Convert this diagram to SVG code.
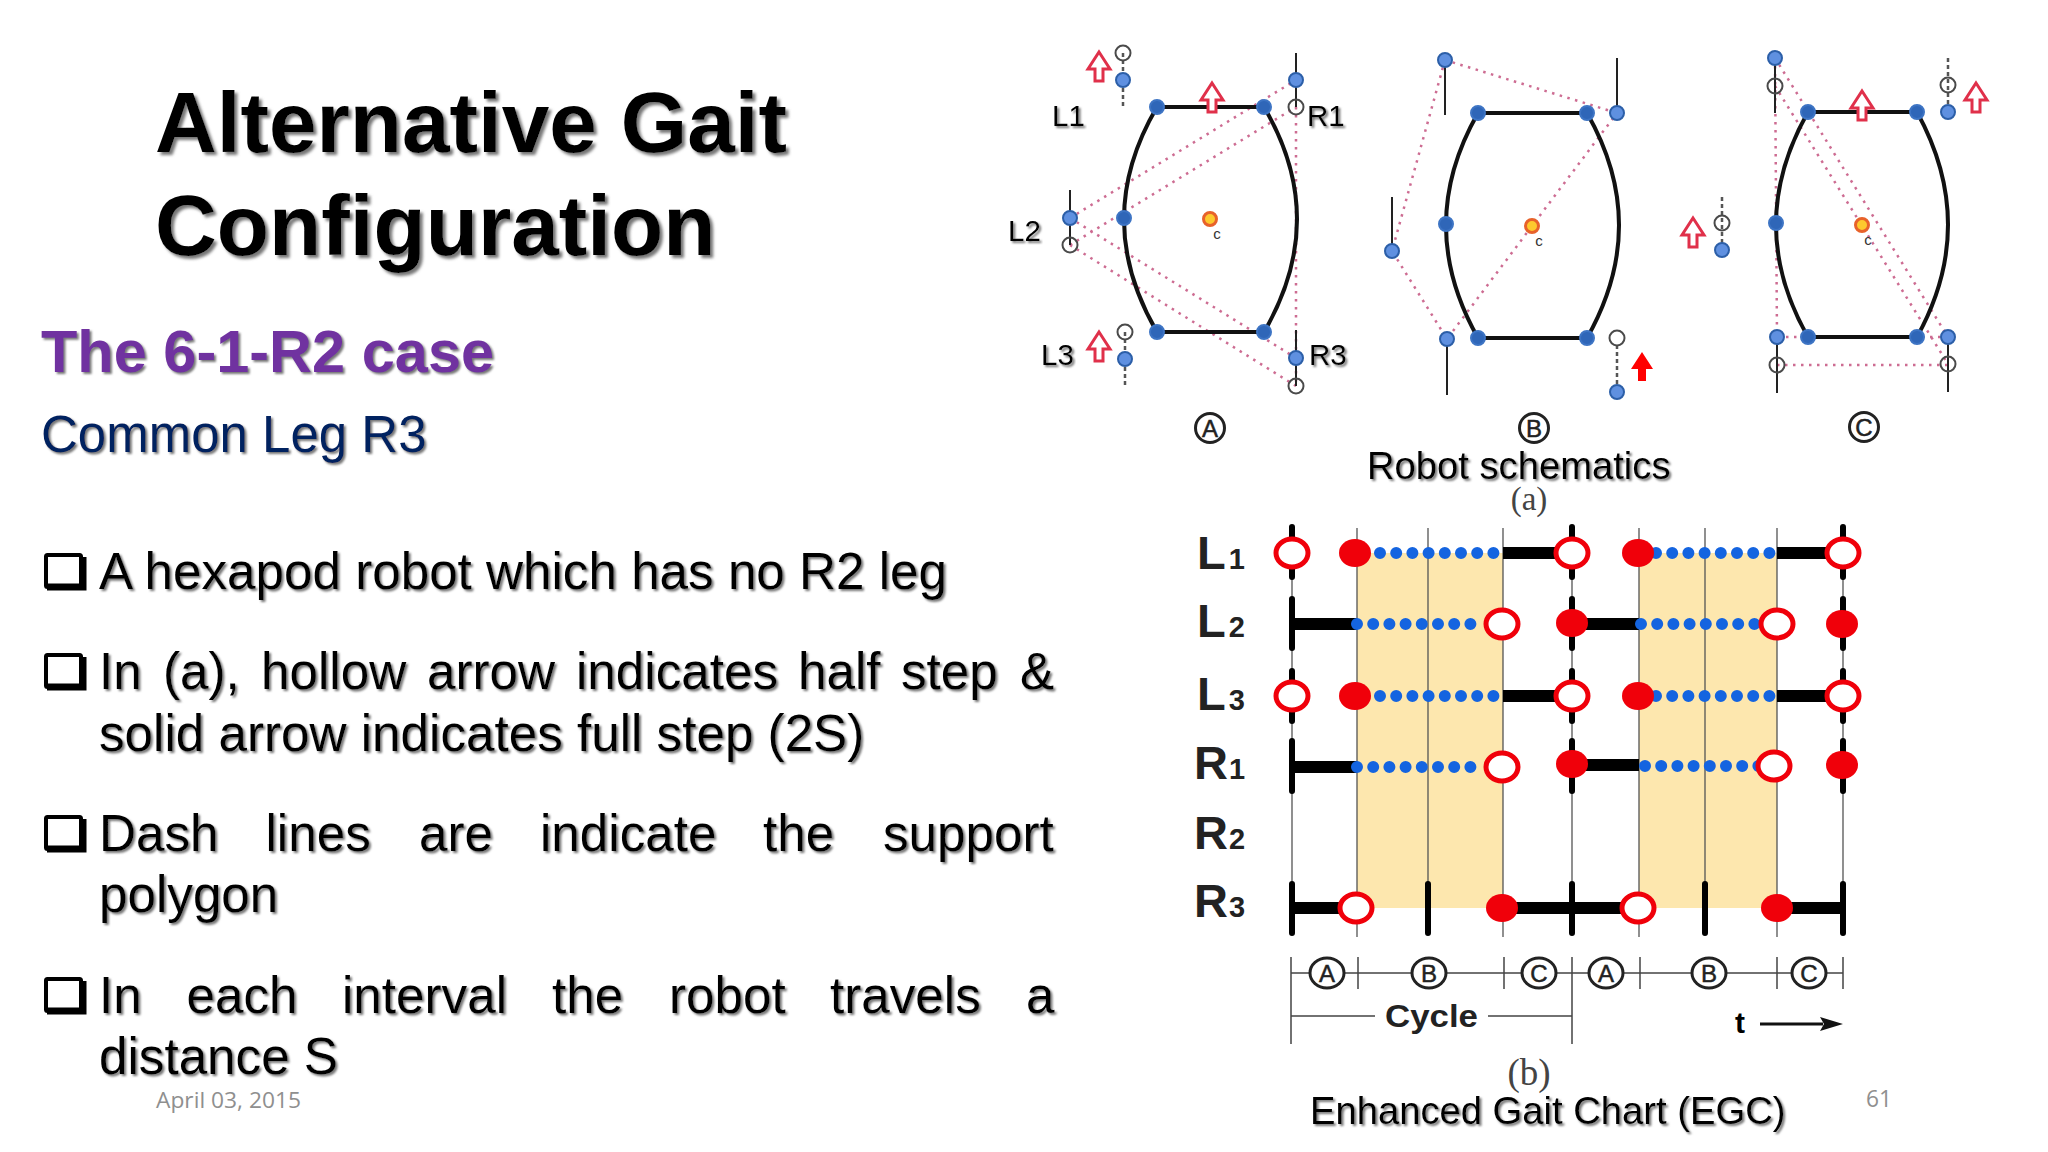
<svg xmlns="http://www.w3.org/2000/svg" xmlns:xlink="http://www.w3.org/1999/xlink" width="2048" height="1152" viewBox="0 0 2048 1152">
<style>
text{font-family:"Liberation Sans",Arial,sans-serif;fill:#000}
.bt{font-size:51.2px;filter:url(#sh)}
.ttl{font-size:85.5px;font-weight:bold;filter:url(#shb)}
.cap{font-size:38.2px;filter:url(#sh)}
.leg{font-size:29.5px;filter:url(#sh)}
.foot{font-family:"Open Sans",sans-serif;fill:#8f8f8f}
.ser{font-family:"Liberation Serif",serif;fill:#444}
.c{font-size:15px;fill:#333;text-anchor:middle}
.cl{font-size:24px;text-anchor:middle;fill:#222;stroke:#222;stroke-width:.5}
.lab{font-size:47px;font-weight:bold;fill:#222}
.lab tspan{font-size:29px}
.body{fill:none;stroke:#111;stroke-width:4;stroke-linejoin:round}
.j{fill:#2f66b8;stroke:#3d74c4;stroke-width:2}
.fb{fill:#5f90e0;stroke:#2c5fa8;stroke-width:2}
.fo{fill:none;stroke:#4a4a4a;stroke-width:2}
.cg{fill:#fdc92e;stroke:#e8622a;stroke-width:3}
.ls{stroke:#222;stroke-width:2;fill:none}
.ld{stroke:#555;stroke-width:2.5;stroke-dasharray:4 3;fill:none}
.pd{stroke:#c4527f;stroke-width:2.5;stroke-dasharray:2.5 5.5;fill:none;opacity:.85}
.ah{fill:#fff;stroke:#e0304a;stroke-width:3}
.ccl{fill:#fff;stroke:#222;stroke-width:3}
.vt{stroke:#555;stroke-width:1.3}
.tick{stroke:#000;stroke-width:6;stroke-linecap:round}
.bar{stroke:#000;stroke-width:12}
.dots{stroke:#1464e0;stroke-width:12;stroke-linecap:round;stroke-dasharray:0 16.2;fill:none}
.op{fill:#fff;stroke:#f0000a;stroke-width:5}
.so{fill:#f0000a}
.tl{stroke:#444;stroke-width:1.5;fill:none}
</style>
<defs>
<filter id="sh" x="-5%" y="-20%" width="110%" height="140%"><feDropShadow dx="2" dy="2" stdDeviation="1.2" flood-color="#777"/></filter>
<filter id="shb" x="-5%" y="-20%" width="110%" height="140%"><feDropShadow dx="3" dy="3" stdDeviation="1.5" flood-color="#777"/></filter>
<path id="arr" d="M0-15 11 2H4V14H-4V2H-11Z"/>
<g id="bul"><rect x="46" y="555" width="35" height="32" rx="1.5" fill="#fff" stroke="#000" stroke-width="4"/><path d="M47 587H83V557" fill="none" stroke="#000" stroke-width="7"/></g>
</defs>
<rect width="2048" height="1152" fill="#fff"/>

<g id="title">
<text class="ttl" x="155" y="152">Alternative Gait</text>
<text class="ttl" x="155" y="255">Configuration</text>
</g>
<g id="subtitle">
<text x="41" y="372" font-size="59.5" font-weight="bold" style="fill:#7030a0;filter:url(#sh)">The 6-1-R2 case</text>
<text x="41" y="452" font-size="51" style="fill:#002060;filter:url(#sh)">Common Leg R3</text>
</g>
<g id="bullets">
<use href="#bul" xlink:href="#bul"/>
<use href="#bul" xlink:href="#bul" y="100"/>
<use href="#bul" xlink:href="#bul" y="262"/>
<use href="#bul" xlink:href="#bul" y="424"/>
<text class="bt" x="99" y="589">A hexapod robot which has no R2 leg</text>
<text class="bt" y="689" x="99">In<tspan x="163">(a),</tspan><tspan x="261">hollow</tspan><tspan x="427">arrow</tspan><tspan x="576">indicates</tspan><tspan x="798">half</tspan><tspan x="901">step</tspan><tspan x="1020">&amp;</tspan></text>
<text class="bt" x="99" y="751">solid arrow indicates full step (2S)</text>
<text class="bt" y="851" x="99">Dash<tspan x="265.5">lines</tspan><tspan x="419">are</tspan><tspan x="540">indicate</tspan><tspan x="763">the</tspan><tspan x="883">support</tspan></text>
<text class="bt" x="99" y="912">polygon</text>
<text class="bt" y="1013" x="99">In<tspan x="186.5">each</tspan><tspan x="342">interval</tspan><tspan x="552">the</tspan><tspan x="669">robot</tspan><tspan x="830">travels</tspan><tspan x="1026">a</tspan></text>
<text class="bt" x="99" y="1074">distance S</text>
</g>
<g id="footer">
<text class="foot" x="156" y="1108" font-size="22" textLength="145" lengthAdjust="spacingAndGlyphs">April 03, 2015</text>
<text class="foot" x="1870" y="1107" font-size="23" textLength="26" lengthAdjust="spacingAndGlyphs" transform="translate(-4 0)">61</text>
</g>

<g id="connectors">
<path class="pd" d="M1070 218 1296 80M1070 245 1296 107M1296 107 1296 386M1070 218 1296 358M1070 245 1296 386"/>
<path class="pd" d="M1445 60 1617 113M1445 60 1392 251 1447 339 1617 113"/>
<path class="pd" d="M1775 58 1948 337M1775 86 1948 364M1775 58 1777 337 1948 337M1777 365H1948"/>
</g>

<g id="robot-a">
<path class="body" d="M1157 107H1264Q1330 219 1264 332H1157Q1091 219 1157 107Z"/>
<g class="j"><circle cx="1157" cy="107" r="7"/><circle cx="1264" cy="107" r="7"/><circle cx="1157" cy="332" r="7"/><circle cx="1264" cy="332" r="7"/><circle cx="1124" cy="218" r="7"/></g>
<circle class="cg" cx="1210" cy="219" r="6.5"/>
<text class="c" x="1217" y="239">c</text>
<path class="ld" d="M1123 53V108M1125 332V388"/>
<path class="ls" d="M1296 53V107M1070 190V245M1296 330V386"/>
<g class="fb"><circle cx="1123" cy="80" r="7"/><circle cx="1296" cy="80" r="7"/><circle cx="1070" cy="218" r="7"/><circle cx="1125" cy="359" r="7"/><circle cx="1296" cy="358" r="7"/></g>
<g class="fo"><circle cx="1123" cy="53" r="7.5"/><circle cx="1296" cy="107" r="7.5"/><circle cx="1070" cy="245" r="7.5"/><circle cx="1125" cy="332" r="7.5"/><circle cx="1296" cy="386" r="7.5"/></g>
<g class="ah"><use href="#arr" xlink:href="#arr" x="1099" y="67"/><use href="#arr" xlink:href="#arr" x="1212" y="98"/><use href="#arr" xlink:href="#arr" x="1099" y="347"/></g>
<text class="leg" x="1052" y="126">L1</text>
<text class="leg" x="1307" y="126">R1</text>
<text class="leg" x="1008" y="241">L2</text>
<text class="leg" x="1041" y="365">L3</text>
<text class="leg" x="1309" y="365">R3</text>
<circle class="ccl" cx="1210" cy="428" r="14.5"/><text class="cl" x="1210" y="437">A</text>
</g>

<g id="robot-b">
<path class="body" d="M1478 113H1587Q1651 225 1587 338H1478Q1414 225 1478 113Z"/>
<g class="j"><circle cx="1478" cy="113" r="7"/><circle cx="1587" cy="113" r="7"/><circle cx="1478" cy="338" r="7"/><circle cx="1587" cy="338" r="7"/><circle cx="1446" cy="224" r="7"/></g>
<circle class="cg" cx="1532" cy="226" r="6.5"/>
<text class="c" x="1539" y="246">c</text>
<path class="ld" d="M1617 338V392"/>
<path class="ls" d="M1445 60V115M1617 58V113M1392 197V251M1447 339V395"/>
<g class="fb"><circle cx="1445" cy="60" r="7"/><circle cx="1617" cy="113" r="7"/><circle cx="1392" cy="251" r="7"/><circle cx="1447" cy="339" r="7"/><circle cx="1617" cy="392" r="7"/></g>
<circle class="fo" cx="1617" cy="338" r="7.5" style="fill:#fff"/>
<use href="#arr" xlink:href="#arr" x="1642" y="367" fill="#f00"/>
<circle class="ccl" cx="1534" cy="428" r="14.5"/><text class="cl" x="1534" y="437">B</text>
</g>

<g id="robot-c">
<path class="body" d="M1808 112H1917Q1979 225 1917 337H1808Q1744 225 1808 112Z"/>
<g class="j"><circle cx="1808" cy="112" r="7"/><circle cx="1917" cy="112" r="7"/><circle cx="1808" cy="337" r="7"/><circle cx="1917" cy="337" r="7"/><circle cx="1776" cy="223" r="7"/></g>
<circle class="cg" cx="1862" cy="225" r="6.5"/>
<text class="c" x="1868" y="245">c</text>
<path class="ld" d="M1948 58V112M1722 197V250"/>
<path class="ls" d="M1775 58V113M1777 337V393M1948 337V392"/>
<g class="fb"><circle cx="1775" cy="58" r="7"/><circle cx="1948" cy="112" r="7"/><circle cx="1722" cy="250" r="7"/><circle cx="1777" cy="337" r="7"/><circle cx="1948" cy="337" r="7"/></g>
<g class="fo"><circle cx="1775" cy="86" r="7.5"/><circle cx="1948" cy="85" r="7.5"/><circle cx="1722" cy="223" r="7.5"/><circle cx="1777" cy="365" r="7.5"/><circle cx="1948" cy="364" r="7.5"/></g>
<g class="ah"><use href="#arr" xlink:href="#arr" x="1862" y="106"/><use href="#arr" xlink:href="#arr" x="1976" y="98"/><use href="#arr" xlink:href="#arr" x="1693" y="233"/></g>
<circle class="ccl" cx="1864" cy="427" r="14.5"/><text class="cl" x="1864" y="436">C</text>
</g>

<g id="caption-a">
<text class="cap" x="1367" y="479">Robot schematics</text>
<text class="ser" x="1529" y="510" font-size="33" text-anchor="middle">(a)</text>
</g>

<g id="gait-chart">
<rect x="1357" y="553" width="146" height="355" fill="#fde7ae"/>
<rect x="1639" y="553" width="138" height="355" fill="#fde7ae"/>
<g class="vt"><path d="M1292 528V935M1357 528V937M1428 528V935M1503 528V937M1572 528V935M1639 528V937M1705 528V935M1777 528V937M1843 528V935"/></g>
<text class="lab" x="1197" y="569">L<tspan dx="3">1</tspan></text>
<text class="lab" x="1197" y="637">L<tspan dx="3">2</tspan></text>
<text class="lab" x="1197" y="710">L<tspan dx="3">3</tspan></text>
<text class="lab" x="1194" y="779">R<tspan dx="1">1</tspan></text>
<text class="lab" x="1194" y="849">R<tspan dx="1">2</tspan></text>
<text class="lab" x="1194" y="917">R<tspan dx="1">3</tspan></text>
<g class="tick"><path d="M1292 527V577M1572 527V577M1843 527V577M1292 599V648M1572 599V648M1843 599V648M1292 671V721M1572 671V721M1843 671V721M1292 741V791M1572 741V791M1843 741V791M1292 884V933M1428 884V933M1572 884V933M1705 884V933M1843 884V933"/></g>
<g class="bar"><path d="M1503 553H1572M1777 553H1843M1292 624H1357M1572 624H1639M1503 696H1572M1777 696H1843M1292 767H1357M1572 765H1639M1292 908H1356M1502 908H1638M1777 908H1843"/></g>
<g class="dots"><path d="M1380 553H1496M1656 553H1772M1357 624H1486M1641 624H1755M1380 696H1496M1656 696H1772M1357 767H1486M1645 766H1760"/></g>
<g class="op"><ellipse cx="1292" cy="553" rx="16" ry="14"/><ellipse cx="1572" cy="553" rx="16" ry="14"/><ellipse cx="1843" cy="553" rx="16" ry="14"/><ellipse cx="1502" cy="624" rx="16" ry="14"/><ellipse cx="1777" cy="624" rx="16" ry="14"/><ellipse cx="1292" cy="696" rx="16" ry="14"/><ellipse cx="1572" cy="696" rx="16" ry="14"/><ellipse cx="1843" cy="696" rx="16" ry="14"/><ellipse cx="1502" cy="767" rx="16" ry="14"/><ellipse cx="1774" cy="766" rx="16" ry="14"/><ellipse cx="1356" cy="908" rx="16" ry="14"/><ellipse cx="1638" cy="908" rx="16" ry="14"/></g>
<g class="so"><ellipse cx="1355" cy="553" rx="16" ry="14"/><ellipse cx="1638" cy="553" rx="16" ry="14"/><ellipse cx="1572" cy="623" rx="16" ry="14"/><ellipse cx="1842" cy="624" rx="16" ry="14"/><ellipse cx="1355" cy="696" rx="16" ry="14"/><ellipse cx="1638" cy="696" rx="16" ry="14"/><ellipse cx="1572" cy="764" rx="16" ry="14"/><ellipse cx="1842" cy="765" rx="16" ry="14"/><ellipse cx="1502" cy="908" rx="16" ry="14"/><ellipse cx="1777" cy="908" rx="16" ry="14"/></g>
</g>

<g id="timeline">
<path class="tl" d="M1291 973H1843M1291 957V1044M1358 957V989M1504 957V989M1572 957V1044M1640 957V989M1777 957V989M1843 957V989M1291 1016H1375M1488 1016H1572"/>
<g class="ccl"><ellipse cx="1327" cy="973" rx="17" ry="15"/><ellipse cx="1429" cy="973" rx="17" ry="15"/><ellipse cx="1539" cy="973" rx="17" ry="15"/><ellipse cx="1606" cy="973" rx="17" ry="15"/><ellipse cx="1709" cy="973" rx="17" ry="15"/><ellipse cx="1809" cy="973" rx="17" ry="15"/></g>
<text class="cl" x="1327" y="982">A</text><text class="cl" x="1429" y="982">B</text><text class="cl" x="1539" y="982">C</text><text class="cl" x="1606" y="982">A</text><text class="cl" x="1709" y="982">B</text><text class="cl" x="1809" y="982">C</text>
<text x="1385" y="1027" font-size="31" font-weight="bold" style="fill:#222" textLength="93" lengthAdjust="spacingAndGlyphs">Cycle</text>
<text x="1735" y="1033" font-size="30" font-weight="bold">t</text>
<path d="M1760 1024H1823" stroke="#111" stroke-width="3" fill="none"/>
<path d="M1843 1024 1820 1031 1824 1024 1820 1017Z" fill="#111"/>
</g>

<g id="caption-b">
<text class="ser" x="1529" y="1085" font-size="37" text-anchor="middle">(b)</text>
<text class="cap" x="1310" y="1124">Enhanced Gait Chart (EGC)</text>
</g>
</svg>
